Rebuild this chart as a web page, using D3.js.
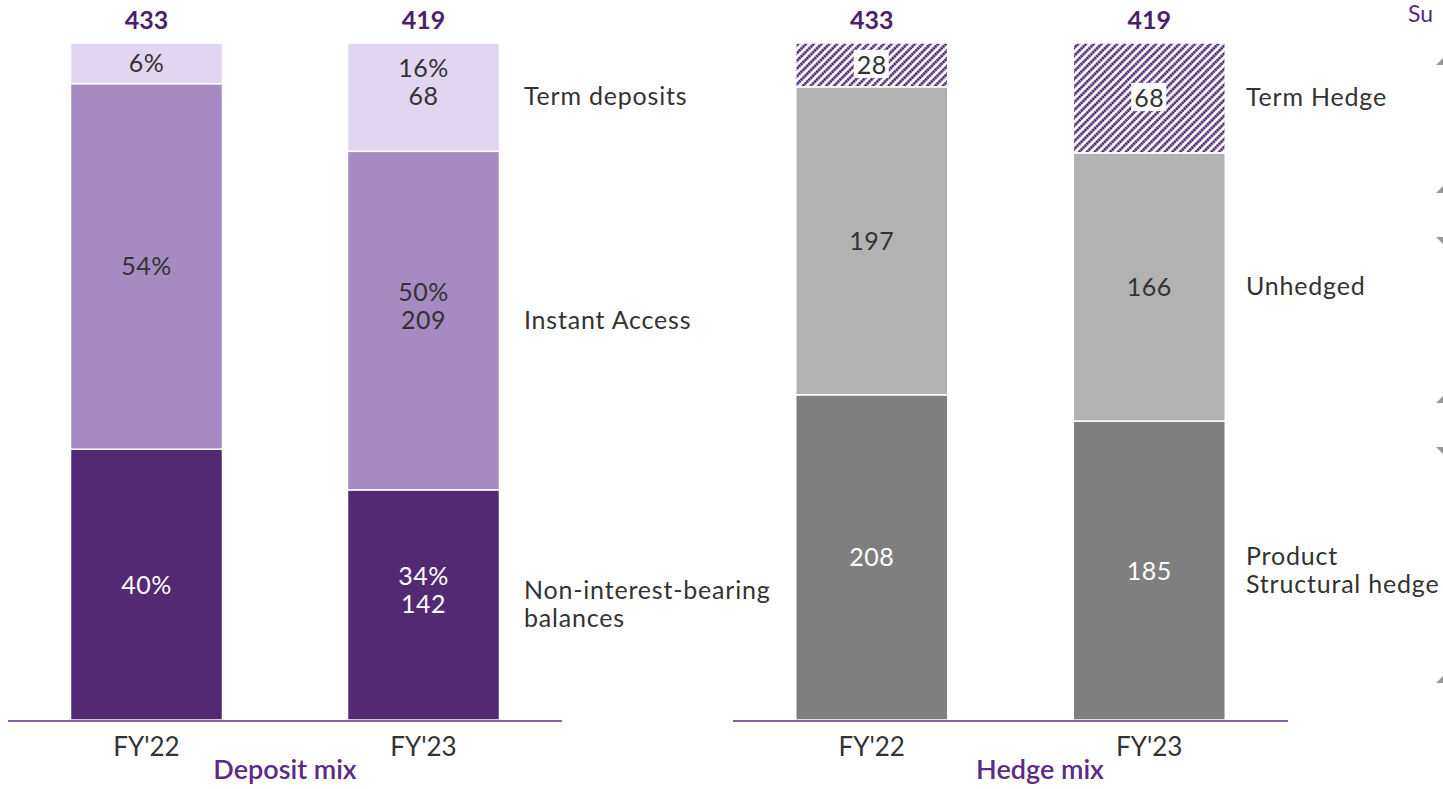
<!DOCTYPE html>
<html>
<head>
<meta charset="utf-8">
<script src="https://d3js.org/d3.v7.min.js"></script>
<style>
body { margin: 0; background: #fff; }
svg { font-family: Lato, "Open Sans", sans-serif; }
</style>
</head>
<body>
<svg id="chart" width="1443" height="789"></svg>
<script>
// data
var years = ["FY'22", "FY'23"];
var totals = [433, 419];

var depositSeries = ["Non-interest-bearing balances", "Instant Access", "Term deposits"];
var depositPct22 = [40, 54, 6];
var depositPct23 = [34, 50, 16];
var depositVal23 = [142, 209, 68];

var hedgeSeries = ["Product Structural hedge", "Unhedged", "Term Hedge"];
var hedge22 = [208, 197, 28];
var hedge23 = [185, 166, 68];

var svg = d3.select("#chart");

var defs = svg.append("defs");
var pat = defs.append("pattern")
  .attr("id", "hatch")
  .attr("patternUnits", "userSpaceOnUse")
  .attr("width", 5.5).attr("height", 5.5)
  .attr("patternTransform", "rotate(45)");
pat.append("rect").attr("width", 5.5).attr("height", 5.5).attr("fill", "#fff");
pat.append("line").attr("x1", 1.5).attr("y1", 0).attr("x2", 1.5).attr("y2", 5.5)
  .attr("stroke", "#4b2470").attr("stroke-width", 2.8).attr("stroke-dasharray", "2.2 0.6");

var y = d3.scaleLinear().domain([0, 100]).range([720, 43]);
var barW = 152;

// shares as percent of each bar
function toShares(vals) {
  var s = d3.sum(vals);
  return vals.map(function(v) { return v / s * 100; });
}

function drawPanel(opt) {
  var x = d3.scalePoint().domain(years).range(opt.range).padding(0.5);
  var g = svg.append("g");

  years.forEach(function(yr, i) {
    var shares = opt.shares[i];
    var cum = 0;
    shares.forEach(function(s, k) {
      var y0 = cum, y1 = cum + s;
      cum = y1;
      g.append("rect")
        .attr("x", x(yr) - barW / 2)
        .attr("width", barW)
        .attr("y", y(y1))
        .attr("height", y(y0) - y(y1))
        .attr("fill", opt.colors[k])
        .attr("stroke", "#fff")
        .attr("stroke-width", 1.5);

      var cy = (y(y0) + y(y1)) / 2;
      var lines = opt.labels(i, k);
      var txtColor = opt.textColors[k];
      if (lines.length === 1) {
        var t = g.append("text")
          .attr("x", x(yr)).attr("y", cy + 9)
          .attr("text-anchor", "middle")
          .attr("font-size", 25)
          .attr("letter-spacing", 0.5)
          .attr("fill", txtColor)
          .text(lines[0]);
        if (opt.boxed && opt.boxed(k)) {
          var bb = t.node().getBBox();
          g.insert("rect", function() { return t.node(); })
            .attr("x", bb.x - 3).attr("y", bb.y + 1)
            .attr("width", bb.width + 5).attr("height", bb.height - 2)
            .attr("fill", "#fff");
        }
      } else {
        g.append("text")
          .attr("x", x(yr)).attr("y", cy - 20)
          .attr("text-anchor", "middle")
          .attr("font-size", 25).attr("letter-spacing", 0.5).attr("fill", txtColor)
          .text(lines[0]);
        g.append("text")
          .attr("x", x(yr)).attr("y", cy + 8)
          .attr("text-anchor", "middle")
          .attr("font-size", 25).attr("letter-spacing", 0.5).attr("fill", txtColor)
          .text(lines[1]);
      }
    });

    // total on top
    g.append("text")
      .attr("x", x(yr)).attr("y", 29)
      .attr("text-anchor", "middle")
      .attr("font-size", 25).attr("font-weight", "bold")
      .attr("fill", "#4b1e6e")
      .text(totals[i]);
  });

  // baseline
  g.append("line")
    .attr("x1", opt.range[0]).attr("x2", opt.range[1])
    .attr("y1", 721).attr("y2", 721)
    .attr("stroke", "#5c2d7f").attr("stroke-width", 1.5);

  // x axis labels
  g.selectAll(".xl").data(years).enter().append("text")
    .attr("x", function(d) { return x(d); })
    .attr("y", 756)
    .attr("text-anchor", "middle")
    .attr("font-size", 26).attr("fill", "#333")
    .text(function(d) { return d; });

  // panel title
  g.append("text")
    .attr("x", opt.titleX).attr("y", 779)
    .attr("text-anchor", "middle")
    .attr("font-size", 27).attr("font-weight", 600).attr("fill", "#5b2a86")
    .text(opt.title);

  // series labels, aligned on last bar segments
  var last = opt.shares[1], c = 0;
  last.forEach(function(s, k) {
    var cy = (y(c) + y(c + s)) / 2;
    c += s;
    var lines = opt.seriesLines[k];
    var t = g.append("text")
      .attr("x", opt.labelX)
      .attr("y", cy + 8 - (lines.length - 1) * 14)
      .attr("font-size", 25).attr("letter-spacing", 0.8).attr("fill", "#333");
    lines.forEach(function(l, j) {
      t.append("tspan").attr("x", opt.labelX)
        .attr("dy", j === 0 ? 0 : 28).text(l);
    });
  });
}

drawPanel({
  range: [8, 562],
  labelX: 524,
  title: "Deposit mix",
  titleX: 285,
  shares: [depositPct22, depositPct23],
  colors: ["#522a74", "#a58bc1", "#e2d5ef"],
  textColors: ["#fff", "#333", "#333"],
  labels: function(i, k) {
    if (i === 0) return [depositPct22[k] + "%"];
    return [depositPct23[k] + "%", String(depositVal23[k])];
  },
  seriesLines: [["Non-interest-bearing", "balances"], ["Instant Access"], ["Term deposits"]]
});

drawPanel({
  range: [733, 1288],
  labelX: 1246,
  title: "Hedge mix",
  titleX: 1040,
  shares: [toShares(hedge22), toShares(hedge23)],
  colors: ["#7f7f7f", "#b2b2b2", "url(#hatch)"],
  textColors: ["#fff", "#333", "#333"],
  labels: function(i, k) {
    return [String(i === 0 ? hedge22[k] : hedge23[k])];
  },
  boxed: function(k) { return k === 2; },
  seriesLines: [["Product", "Structural hedge"], ["Unhedged"], ["Term Hedge"]]
});

// small text at the top right corner
svg.append("text").attr("x", 1408).attr("y", 22)
  .attr("font-size", 23).attr("fill", "#5b2a86").text("Su");

// small grey arrow heads at right edge
[[62, 1], [190, 1], [240, -1], [400, 1], [450, -1], [680, 1]].forEach(function(a) {
  var yy = a[0];
  var p = a[1] > 0 ? "M1436," + (yy + 3) + "L1443," + (yy - 4) + "L1443," + (yy + 3) + "Z"
                   : "M1436," + (yy - 3) + "L1443," + (yy - 3) + "L1443," + (yy + 4) + "Z";
  svg.append("path").attr("d", p).attr("fill", "#999");
});
</script>
</body>
</html>
